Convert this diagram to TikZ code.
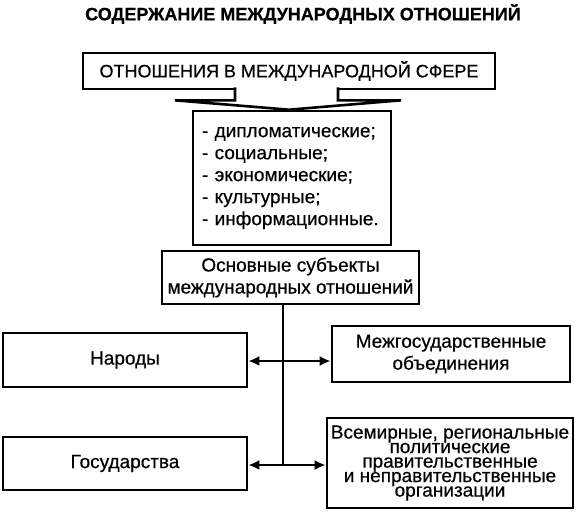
\documentclass[tikz,border=0pt]{standalone}
\usepackage{fontspec}
\setmainfont[FakeBold=0.5]{Liberation Sans}
\usetikzlibrary{arrows.meta}
\usetikzlibrary{calc}
\usetikzlibrary{positioning}
\tikzstyle{block} = [draw, fill=white, rectangle, line width=2.6pt,
inner sep=0pt, align=center]
\tikzstyle{point} = [coordinate]
\tikzstyle{link} = [line width=2.2pt]

\begin{document}
\begin{tikzpicture}[x=1pt, y=-1pt, >={Latex[length=11pt,width=10pt]}, font=\fontsize{19}{22}\selectfont]
		\useasboundingbox (0,0) rectangle (576,512);
		\node (title) at (303,14) {\bfseries\fontsize{18}{22}\selectfont СОДЕРЖАНИЕ МЕЖДУНАРОДНЫХ ОТНОШЕНИЙ};
		\node [block, minimum width=412pt, minimum height=36pt, font=\fontsize{18}{22}\selectfont] (sphere) at (289,71) {ОТНОШЕНИЯ В МЕЖДУНАРОДНОЙ СФЕРЕ};
		
		\node [block, minimum width=198pt, minimum height=134pt, text width=180pt, align=left] (kinds) at (292,178)
		{- дипломатические;\\- социальные;\\- экономические;\\- культурные;\\- информационные.};
		
		% wide arrow
		\draw [line width=2.6pt, fill=white, line join=miter]
		($(sphere.south)+(-54,-3)$) -- ($(sphere.south)+(-54,10)$) -- ($(sphere.south)+(-114,10)$)
		-- (kinds.north -| sphere.south) -- ($(sphere.south)+(112,10)$) -- ($(sphere.south)+(49,10)$)
		-- ($(sphere.south)+(49,-3)$);
		
		\node [block, minimum width=257pt, minimum height=53pt] (subjects) at (290.5,277.5) {Основные субъекты\\международных отношений};
		
		\node [block, minimum width=244pt, minimum height=54pt] (peoples) at (125,360) {Народы};
		\node [block, minimum width=238pt, minimum height=56pt] (unions) at (451,354) {Межгосударственные\\объединения};
		\node [block, minimum width=244pt, minimum height=53pt] (states) at (125,463.5) {Государства};
		\node [block, minimum width=246pt, minimum height=90pt, font=\fontsize{19}{14.5}\selectfont] (orgs) at (450,463)
		{Всемирные, региональные\\политические\\правительственные\\и неправительственные\\организации};
		
		\node [point] (j1) at (283,361) {};
		\node [point] (j2) at (283,465) {};
		
		\draw [link] (subjects.south -| j2) -- (j2);
		\draw [link, ->] (j1) -- (j1 -| peoples.east);
		\draw [link, ->] (j1) -- (j1 -| unions.west);
		\draw [link, ->] (j2) -- (j2 -| states.east);
		\draw [link, ->] (j2) -- (j2 -| orgs.west);
	\end{tikzpicture}
\end{document}
